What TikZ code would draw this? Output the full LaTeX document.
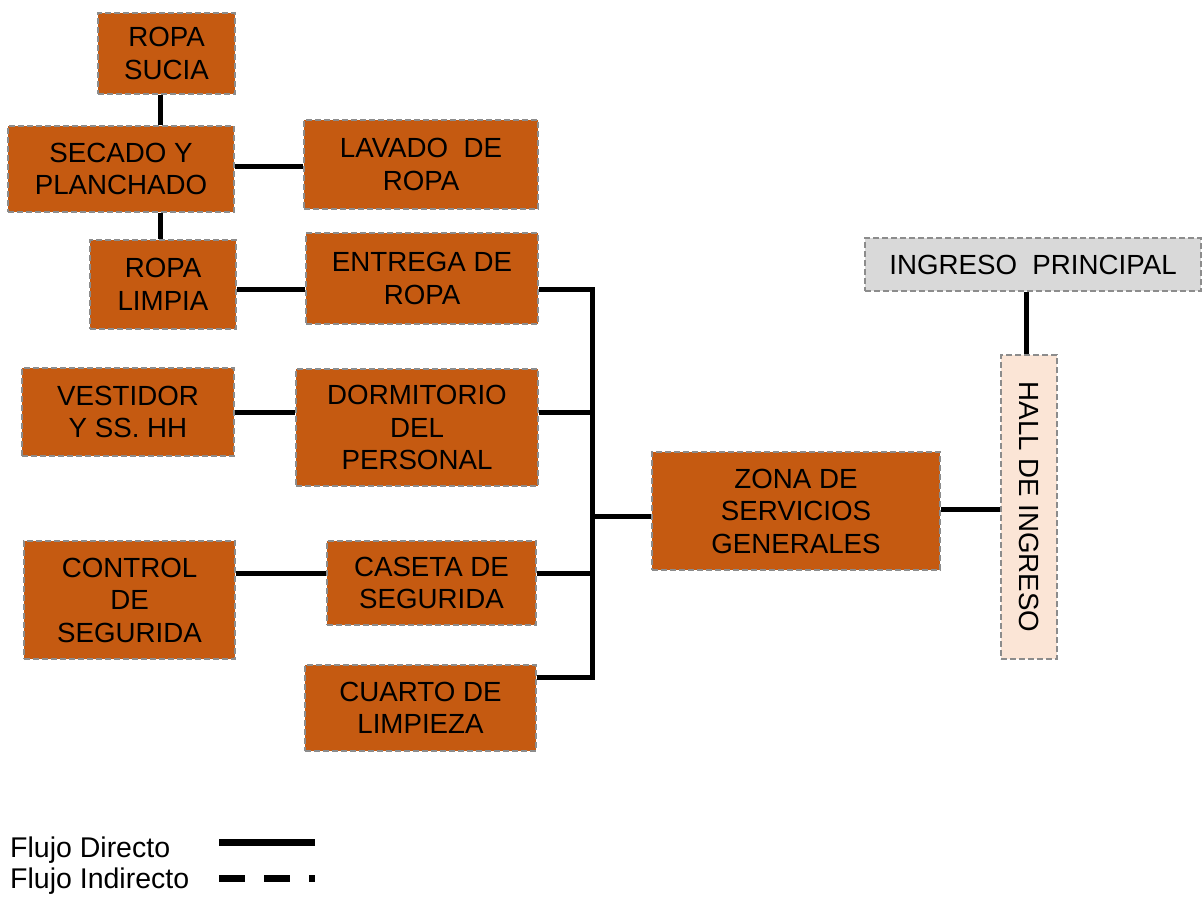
\documentclass[tikz,border=0pt]{standalone}
\usepackage{fontspec}
\usepackage{graphicx}
\setmainfont{Liberation Sans}
\definecolor{boxorange}{HTML}{C55A11}
\definecolor{boxgray}{HTML}{D9D9D9}
\definecolor{boxpeach}{HTML}{FBE5D6}
\definecolor{boxborder}{HTML}{8C8C8C}
\newcommand{\bxfont}{\fontsize{27.7}{32.5}\selectfont}
\newcommand{\lgfont}{\fontsize{28.5}{31}\selectfont}
\begin{document}
\begin{tikzpicture}[x=1pt,y=-1pt,
  box/.style={draw=boxborder, line width=1.4pt, dash pattern=on 6pt off 3pt,
    fill=boxorange, inner sep=0pt, align=center, font=\bxfont, text=black},
  graybox/.style={box, fill=boxgray},
  peachbox/.style={box, fill=boxpeach},
  flow/.style={line width=5pt, black, line join=miter},
  legendtext/.style={anchor=base west, font=\lgfont, inner sep=0pt},
  legendline/.style={line width=7pt, black}
]
\useasboundingbox (0,0) rectangle (1203,899);

% boxes
\node[box, minimum width=137pt, minimum height=81pt] (sucia) at (166.5,53.5) {ROPA\\SUCIA};
\node[box, minimum width=226pt, minimum height=86pt] (secado) at (121,169) {SECADO Y\\PLANCHADO};
\node[box, minimum width=234pt, minimum height=89pt] (lavado) at (421,164.5) {LAVADO\ \ DE\\ROPA};
\node[box, minimum width=146pt, minimum height=89pt] (limpia) at (163,284.5) {ROPA\\LIMPIA};
\node[box, minimum width=232pt, minimum height=91pt] (entrega) at (422,278.5) {ENTREGA DE\\ROPA};
\node[box, minimum width=212pt, minimum height=88pt] (vestidor) at (128,412) {VESTIDOR\\Y SS. HH};
\node[box, minimum width=242pt, minimum height=117pt] (dormitorio) at (417,427.5) {DORMITORIO\\DEL\\PERSONAL};
\node[box, minimum width=211pt, minimum height=118pt] (control) at (129.5,600) {CONTROL\\DE\\SEGURIDA};
\node[box, minimum width=209pt, minimum height=84pt] (caseta) at (431.5,583) {CASETA DE\\SEGURIDA};
\node[box, minimum width=231pt, minimum height=86pt] (cuarto) at (420.5,708) {CUARTO DE\\LIMPIEZA};
\node[box, minimum width=288pt, minimum height=118pt] (zona) at (796,511) {ZONA DE\\SERVICIOS\\GENERALES};
\node[graybox, minimum width=336pt, minimum height=53pt] (ingreso) at (1033,264.5) {INGRESO\ \ PRINCIPAL};
\node[peachbox, minimum width=56pt, minimum height=304pt] (hall) at (1029,507) {\rotatebox{-90}{HALL DE INGRESO}};

% helper coordinates for connector positions
\coordinate (xv) at (160,0);
\coordinate (yl) at (0,166);
\coordinate (ye) at (0,289);
\coordinate (yd) at (0,412);
\coordinate (yc) at (0,573);
\coordinate (yq) at (0,677);
\coordinate (yz) at (0,516);
\coordinate (yh) at (0,509);
\coordinate (bx) at (592,0);
\coordinate (ix) at (1026,0);

% connectors
\draw[flow] (sucia.south -| xv) -- (secado.north -| xv);
\draw[flow] (secado.south -| xv) -- (limpia.north -| xv);
\draw[flow] (secado.east |- yl) -- (lavado.west |- yl);
\draw[flow] (limpia.east |- ye) -- (entrega.west |- ye);
\draw[flow] (vestidor.east |- yd) -- (dormitorio.west |- yd);
\draw[flow] (control.east |- yc) -- (caseta.west |- yc);
\draw[flow] (entrega.east |- ye) -- (bx |- ye) -- (bx |- yq) -- (cuarto.east |- yq);
\draw[flow] (dormitorio.east |- yd) -- (bx |- yd);
\draw[flow] (caseta.east |- yc) -- (bx |- yc);
\draw[flow] (bx |- yz) -- (zona.west |- yz);
\draw[flow] (zona.east |- yh) -- (hall.west |- yh);
\draw[flow] (ingreso.south -| ix) -- (hall.north -| ix);

% legend
\node[legendtext] (ldir) at (10,857) {Flujo Directo};
\node[legendtext] (lind) at (10,888) {Flujo Indirecto};
\coordinate (la1) at (219,842);
\coordinate (la2) at (315,842);
\coordinate (lb1) at (219,878);
\coordinate (lb2) at (315,878);
\draw[legendline] (la1) -- (la2);
\draw[legendline, dash pattern=on 26pt off 19pt] (lb1) -- (lb2);
\end{tikzpicture}
\end{document}
